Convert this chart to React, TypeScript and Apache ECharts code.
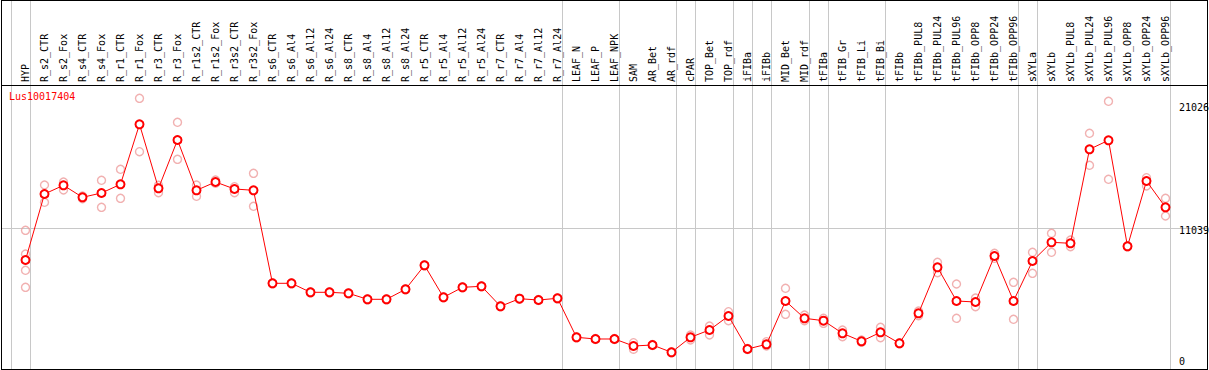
import React, { useEffect, useRef } from 'react';
import * as echarts from 'echarts';

const chartTitle = 'Lus10017404';

const categories = [
  'HYP', 'R_s2_CTR', 'R_s2_Fox', 'R_s4_CTR', 'R_s4_Fox', 'R_r1_CTR', 'R_r1_Fox', 'R_r3_CTR', 'R_r3_Fox',
  'R_r1s2_CTR', 'R_r1s2_Fox', 'R_r3s2_CTR', 'R_r3s2_Fox', 'R_s6_CTR', 'R_s6_Al4', 'R_s6_Al12', 'R_s6_Al24',
  'R_s8_CTR', 'R_s8_Al4', 'R_s8_Al12', 'R_s8_Al24', 'R_r5_CTR', 'R_r5_Al4', 'R_r5_Al12', 'R_r5_Al24',
  'R_r7_CTR', 'R_r7_Al4', 'R_r7_Al12', 'R_r7_Al24', 'LEAF_N', 'LEAF_P', 'LEAF_NPK', 'SAM', 'AR_Bet', 'AR_rdf',
  'cPAR', 'TOP_Bet', 'TOP_rdf', 'iFIBa', 'iFIBb', 'MID_Bet', 'MID_rdf', 'tFIBa', 'tFIB_Gr', 'tFIB_Li', 'tFIB_Bi',
  'tFIBb', 'tFIBb_PUL8', 'tFIBb_PUL24', 'tFIBb_PUL96', 'tFIBb_OPP8', 'tFIBb_OPP24', 'tFIBb_OPP96',
  'sXYLa', 'sXYLb', 'sXYLb_PUL8', 'sXYLb_PUL24', 'sXYLb_PUL96', 'sXYLb_OPP8', 'sXYLb_OPP24', 'sXYLb_OPP96',
];

const means = [
  8459, 13776, 14477, 13510, 13856, 14557, 19391, 14235, 18126,
  14074, 14742, 14179, 14074, 6582, 6582, 5857, 5857,
  5776, 5293, 5293, 6098, 8032, 5454, 6259, 6340,
  4729, 5341, 5236, 5373, 2231, 2095, 2095, 1531, 1611, 1023,
  2231, 2820, 3947, 1289, 1668, 5156, 3762, 3569, 2554, 1909, 2634,
  1748, 4165, 7871, 5156, 5075, 8781, 5156,
  8378, 9885, 9804, 17377, 18102, 9562, 14823, 12704,
];

const replicates: number[][] = [
  [10851, 8942, 7629, 6259], [14501, 13107], [14742, 14098], [13615, 13397], [14880, 12704],
  [15766, 13429], [21485, 17183], [14477, 13881], [19552, 16571],
  [14501, 13591], [14904, 14638], [14364, 13881], [15443, 12785], [6620, 6540], [6620, 6540], [5900, 5810], [5900, 5810],
  [5810, 5740], [5330, 5250], [5330, 5250], [6140, 6060], [8070, 7990], [5490, 5420], [6300, 6220], [6380, 6300],
  [4770, 4690], [5380, 5300], [5270, 5200], [5410, 5330], [2270, 2190], [2130, 2060], [2130, 2060], [1796, 1266], [1650, 1570], [1060, 990],
  [2417, 2014], [3142, 2417], [4294, 3569], [1330, 1250], [1877, 1531], [6179, 4084], [4028, 3569], [3762, 3359], [2820, 2280], [2014, 1829], [3037, 2199],
  [1790, 1710], [4350, 3972], [8274, 7436], [6525, 3762], [5397, 4697], [8999, 8596], [6662, 3682],
  [9079, 7387], [10610, 9079], [10070, 9530], [18666, 16088], [21244, 14960], [9600, 9520], [15089, 14420], [13429, 12003],
];

// index of the last category of each group (-1 = left edge)
const groupEnds = [-1, 0, 28, 31, 34, 35, 37, 38, 39, 41, 42, 45, 52, 53, 60];
const yTickValues = [21026, 11039, 0];
const gridLineValue = 11039;

const MONO = '"DejaVu Sans Mono", monospace';

export default function App() {
  const ref = useRef<HTMLDivElement>(null);

  useEffect(() => {
    const chart = echarts.init(ref.current!, null, { renderer: 'svg' });
    const repData: number[][] = [];
    replicates.forEach((reps, i) => reps.forEach((v) => repData.push([i, v])));

    chart.setOption({
      animation: false,
      grid: { left: 16, top: 85, width: 1159, height: 284, containLabel: false },
      xAxis: {
        type: 'category',
        data: categories,
        position: 'top',
        boundaryGap: true,
        axisLine: { show: false },
        axisTick: { show: false },
        splitLine: { show: false },
        axisLabel: {
          rotate: 90,
          interval: 0,
          margin: 3,
          fontFamily: MONO,
          fontSize: 10,
          color: '#000',
        },
      },
      yAxis: { type: 'value', min: -322, max: 22557, show: false, splitLine: { show: false } },
      series: [
        {
          type: 'scatter',
          data: repData,
          symbol: 'circle',
          symbolSize: 8,
          itemStyle: { color: 'rgba(0,0,0,0)', borderColor: '#ee9c9c', borderWidth: 1.4 },
          z: 2,
        },
        {
          type: 'line',
          data: means,
          symbol: 'emptyCircle',
          symbolSize: 8,
          showAllSymbol: true,
          itemStyle: { color: '#ff0000', borderWidth: 1.5 },
          lineStyle: { color: '#ff0000', width: 1 },
          z: 3,
        },
      ],
    });

    const px = (i: number) => chart.convertToPixel({ gridIndex: 0 }, [i, 0])[0];
    const py = (v: number) => chart.convertToPixel({ gridIndex: 0 }, [0, v])[1];
    const band = px(1) - px(0);
    const gridBottom = py(-322);

    const elements: any[] = [];
    groupEnds.forEach((g) => {
      const x = Math.round((g >= 0 ? px(g) : px(0) - band) + 4) + 0.5;
      elements.push({
        type: 'line', z: 0, silent: true,
        shape: { x1: x, y1: 0, x2: x, y2: 369 },
        style: { stroke: '#c8c8c8', lineWidth: 1 },
      });
    });
    const gy = Math.round(py(gridLineValue)) + 0.5;
    elements.push({
      type: 'line', z: 0, silent: true,
      shape: { x1: 1, y1: gy, x2: 1207, y2: gy },
      style: { stroke: '#c8c8c8', lineWidth: 1 },
    });
    // frame
    [[1.5, 0, 1.5, 370], [1207.5, 0, 1207.5, 370], [1, 0.5, 1208, 0.5], [1, 85.5, 1208, 85.5], [1, 369.5, 1208, 369.5]].forEach(
      ([x1, y1, x2, y2]) => {
        elements.push({
          type: 'line', z: 1, silent: true,
          shape: { x1, y1, x2, y2 },
          style: { stroke: '#000', lineWidth: 1 },
        });
      }
    );
    yTickValues.forEach((v) => {
      const y = Math.min(py(v), gridBottom - 11) - 2;
      elements.push({
        type: 'text', z: 5, silent: true,
        x: 1179, y,
        style: { text: String(v), fill: '#000', font: `10px ${MONO}`, verticalAlign: 'top', textVerticalAlign: 'top', align: 'left' },
      });
    });
    elements.push({
      type: 'text', z: 5, silent: true,
      x: 9, y: 91,
      style: { text: chartTitle, fill: '#ff0000', font: `10px ${MONO}`, verticalAlign: 'top', textVerticalAlign: 'top', align: 'left' },
    });

    chart.setOption({ graphic: { elements } });

    return () => chart.dispose();
  }, []);

  return (
    <div
      ref={ref}
      style={{ position: 'fixed', left: 0, top: 0, width: 1209, height: 370, background: '#fff' }}
    />
  );
}
